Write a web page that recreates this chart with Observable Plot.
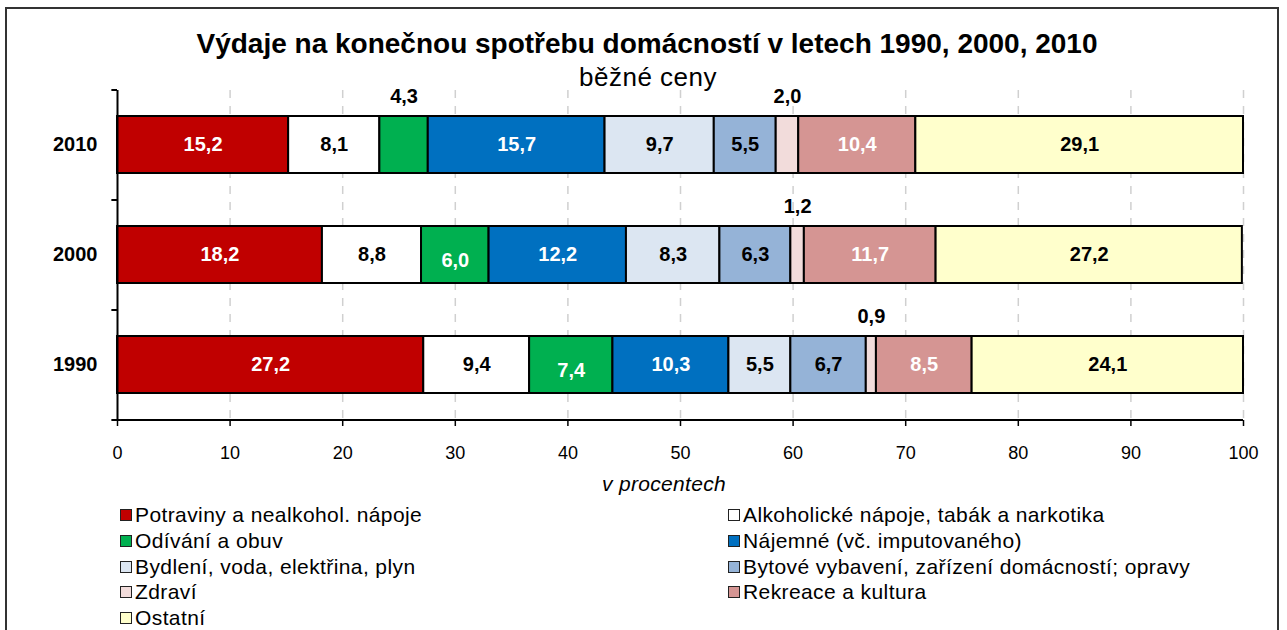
<!DOCTYPE html>
<html><head><meta charset="utf-8">
<script src="https://cdn.jsdelivr.net/npm/d3@7"></script>
<script src="https://cdn.jsdelivr.net/npm/@observablehq/plot@0.6"></script>
<style>
body{margin:0;background:#fff;font-family:"Liberation Sans",Arial,sans-serif;}
#wrap{position:relative;width:1287px;height:630px;overflow:hidden;background:#fff;}
#frame{position:absolute;left:5px;top:7px;width:1274px;height:660px;border:2px solid #333;box-sizing:border-box;}
#title{position:absolute;left:0;width:1294px;top:28px;text-align:center;font-weight:bold;font-size:28px;color:#000;}
#sub{position:absolute;left:0;width:1296px;top:62px;text-align:center;font-size:26px;letter-spacing:0.5px;color:#000;}
#plot{position:absolute;left:0;top:0;}
#xlab{position:absolute;left:0;width:1328px;top:472px;text-align:center;font-style:italic;font-size:21px;letter-spacing:0.3px;}
.leg{position:absolute;font-size:21px;letter-spacing:0.4px;color:#000;white-space:nowrap;}
.sw{display:inline-block;width:10px;height:10px;border:1.5px solid #222;margin-right:3px;vertical-align:1px;}
</style></head>
<body><div id="wrap"><div id="frame"></div>
<div id="title">Výdaje na konečnou spotřebu domácností v letech 1990, 2000, 2010</div>
<div id="sub">běžné ceny</div>
<div id="plot"></div>
<div id="xlab">v procentech</div>
</div>
<script>
const years = ["2010", "2000", "1990"];
const categories = [
  "Potraviny a nealkohol. nápoje",
  "Alkoholické nápoje, tabák a narkotika",
  "Odívání a obuv",
  "Nájemné (vč. imputovaného)",
  "Bydlení, voda, elektřina, plyn",
  "Bytové vybavení, zařízení domácností; opravy",
  "Zdraví",
  "Rekreace a kultura",
  "Ostatní"
];
const colors = ["#C00000", "#FFFFFF", "#00B050", "#0070C0", "#DCE6F2", "#95B3D7", "#F2DCDB", "#D59593", "#FFFFCC"];
const labelColors = ["#fff", "#000", "#fff", "#fff", "#000", "#000", "#000", "#fff", "#000"];
const values2010 = [15.2, 8.1, 4.3, 15.7, 9.7, 5.5, 2.0, 10.4, 29.1];
const values2000 = [18.2, 8.8, 6.0, 12.2, 8.3, 6.3, 1.2, 11.7, 27.2];
const values1990 = [27.2, 9.4, 7.4, 10.3, 5.5, 6.7, 0.9, 8.5, 24.1];
const xTicks = [0, 10, 20, 30, 40, 50, 60, 70, 80, 90, 100];

const series = {"2010": values2010, "2000": values2000, "1990": values1990};
const data = [];
for (const y of years) series[y].forEach((v, i) => data.push({year: y, cat: categories[i], ci: i, value: v}));
const fmt = v => v.toFixed(1).replace(".", ",");

const plot = Plot.plot({
  width: 1287, height: 500,
  marginLeft: 117, marginRight: 44, marginTop: 90, marginBottom: 80,
  style: {fontFamily: "Liberation Sans, Arial, sans-serif", background: "transparent", overflow: "visible"},
  x: {domain: [0, 100], ticks: xTicks, label: null},
  y: {domain: years, paddingInner: 0.48, paddingOuter: 0.24, label: null},
  color: {domain: categories, range: colors},
  marks: [
    Plot.gridX(xTicks.slice(1), {stroke: "#d0d0d0", strokeOpacity: 1, strokeWidth: 1.5, strokeDasharray: "8,8"}),
    Plot.barX(data, Plot.stackX({x: "value", y: "year", fill: "cat", z: "cat", order: null, stroke: "#000", strokeWidth: 2})),
    Plot.text(data, Plot.stackX({
      x: "value", y: "year", z: "cat", order: null,
      text: d => d.value >= 5 && d.ci !== 2 ? fmt(d.value) : null, fill: d => labelColors[d.ci],
      fontSize: 20, fontWeight: "bold"
    })),
    Plot.text(data, Plot.stackX({
      x: "value", y: "year", z: "cat", order: null,
      text: d => d.value >= 5 && d.ci === 2 ? fmt(d.value) : null, fill: d => labelColors[d.ci], dy: 6,
      fontSize: 20, fontWeight: "bold"
    })),
    Plot.text(data, Plot.stackX({
      x: "value", y: "year", z: "cat", order: null,
      text: d => d.value < 5 ? fmt(d.value) : null, fill: "#000", dy: -48,
      fontSize: 20, fontWeight: "bold"
    })),
    Plot.ruleX([0], {stroke: "#000", strokeWidth: 2}),
    Plot.ruleY(years, {y: d => d, x1: -0.5, x2: 0, dy: -55, stroke: "#000", strokeWidth: 2}),
    Plot.ruleY(["1990"], {y: d => d, x1: -0.5, x2: 0, dy: 55, stroke: "#000", strokeWidth: 2}),
    Plot.ruleY(["1990"], {y: d => d, x1: 0, x2: 100, dy: 55, stroke: "#000", strokeWidth: 2}),
    Plot.axisX({ticks: xTicks, tickSize: 6, tickPadding: 20, fontSize: 18, tickFormat: d => String(d), stroke: "#000", strokeWidth: 1.5, label: null}),
    Plot.axisY({tickSize: 0, tickPadding: 20, fontSize: 20, fontWeight: "bold", label: null})
  ]
});
document.getElementById("plot").appendChild(plot);

// legend
const legPos = [[120, 503], [728, 503]];
categories.forEach((c, i) => {
  const col = i % 2, row = Math.floor(i / 2);
  const el = document.createElement("div");
  el.className = "leg";
  el.style.left = legPos[col][0] + "px";
  el.style.top = (legPos[col][1] + row * 25.8) + "px";
  el.innerHTML = `<span class="sw" style="background:${colors[i]}"></span>${c}`;
  document.getElementById("wrap").appendChild(el);
});
</script>
</body></html>
